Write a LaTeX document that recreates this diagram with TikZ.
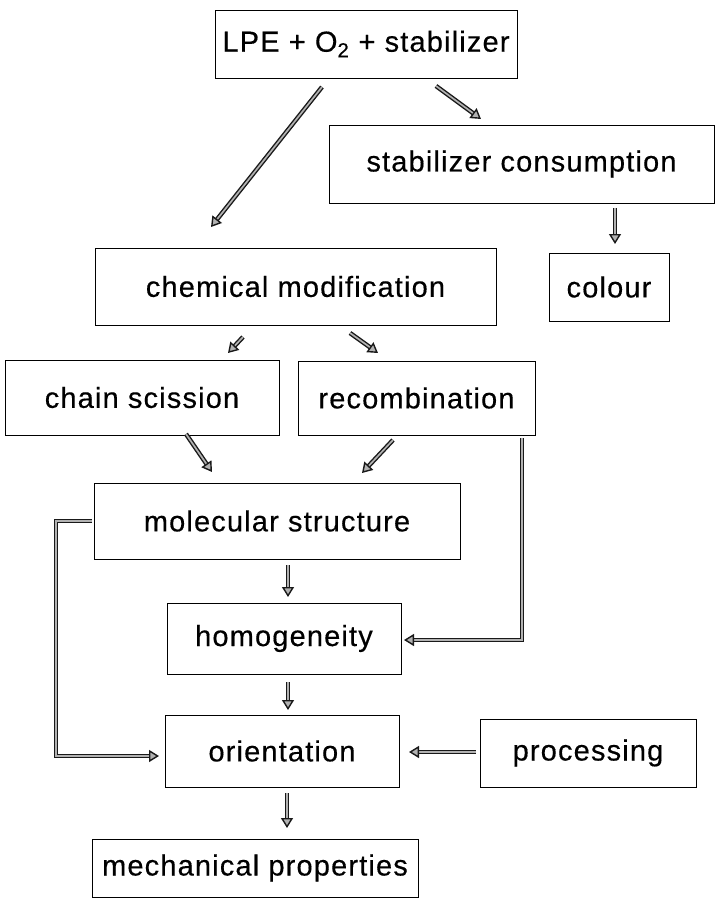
\documentclass[tikz,border=0pt]{standalone}
\usepackage{fontspec}
\setmainfont{Liberation Sans}[LetterSpace=4,FakeBold=0.4]
\usetikzlibrary{arrows.meta}
\begin{document}
\begin{tikzpicture}[x=1pt,y=-1pt,
  box/.style={draw, line width=0.9pt, rectangle, inner sep=0pt, font=\fontsize{29}{31}\selectfont},
  flow/.style={draw=black!90, line width=1.4pt, double=gray!60, double distance=1.7pt,
    -{Triangle[open, length=10pt, width=12pt, fill=gray!60]}}]
\useasboundingbox (0,0) rectangle (720,901);
\node[box, minimum width=302pt, minimum height=68pt] (lpe) at (366,44) {LPE + O\textsubscript{2} + stabilizer};
\node[box, minimum width=385pt, minimum height=78pt] (stab) at (521.5,164) {stabilizer consumption};
\node[box, minimum width=401pt, minimum height=77pt] (chem) at (295.5,286.5) {chemical modification};
\node[box, minimum width=120pt, minimum height=68pt] (col) at (609,287) {colour};
\node[box, minimum width=274pt, minimum height=75pt] (chain) at (142,397.5) {chain scission};
\node[box, minimum width=237pt, minimum height=74pt] (rec) at (416.5,398) {recombination};
\node[box, minimum width=366pt, minimum height=76pt] (mol) at (277,521) {molecular structure};
\node[box, minimum width=234pt, minimum height=71pt] (hom) at (284,638.5) {homogeneity};
\node[box, minimum width=234pt, minimum height=72pt] (ori) at (282,751) {orientation};
\node[box, minimum width=216pt, minimum height=68pt] (proc) at (588,753) {processing};
\node[box, minimum width=326pt, minimum height=58pt] (mech) at (255,868) {mechanical properties};
% connector end points
\coordinate (a1s) at (322,87);  \coordinate (a1e) at (211,227);
\coordinate (a2s) at (436,86);  \coordinate (a2e) at (481,119);
\coordinate (a3s) at (615,208); \coordinate (a3e) at (615,244);
\coordinate (a4s) at (243,337); \coordinate (a4e) at (228,353);
\coordinate (a5s) at (350,333); \coordinate (a5e) at (378,353);
\coordinate (a6s) at (186,434); \coordinate (a6e) at (212,472);
\coordinate (a7s) at (393,440); \coordinate (a7e) at (362,473);
\coordinate (a8s) at (288,565); \coordinate (a8e) at (288,597);
\coordinate (a9s) at (522,438); \coordinate (a9c) at (522,640); \coordinate (a9e) at (404,640);
\coordinate (b1s) at (288,682); \coordinate (b1e) at (288,710);
\coordinate (b2s) at (92,521);  \coordinate (b2a) at (56,521); \coordinate (b2b) at (56,756); \coordinate (b2e) at (159,756);
\coordinate (b3s) at (476,752); \coordinate (b3e) at (409,752);
\coordinate (b4s) at (287,793); \coordinate (b4e) at (287,828);
\draw[flow] (a1s) -- (a1e);
\draw[flow] (a2s) -- (a2e);
\draw[flow] (a3s) -- (a3e);
\draw[flow] (a4s) -- (a4e);
\draw[flow] (a5s) -- (a5e);
\draw[flow] (a6s) -- (a6e);
\draw[flow] (a7s) -- (a7e);
\draw[flow] (a8s) -- (a8e);
\draw[flow] (a9s) -- (a9c) -- (a9e);
\draw[flow] (b1s) -- (b1e);
\draw[flow] (b2s) -- (b2a) -- (b2b) -- (b2e);
\draw[flow] (b3s) -- (b3e);
\draw[flow] (b4s) -- (b4e);
\end{tikzpicture}
\end{document}
